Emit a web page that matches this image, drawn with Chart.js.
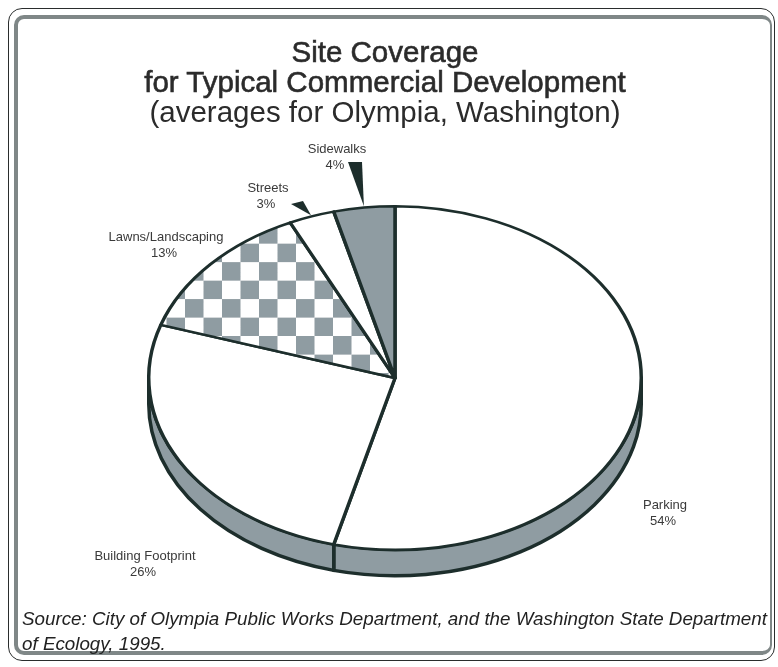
<!DOCTYPE html>
<html>
<head>
<meta charset="utf-8">
<title>Site Coverage</title>
<script src="https://cdn.jsdelivr.net/npm/chart.js@4.4.1/dist/chart.umd.min.js"></script>
<style>
  html, body { margin: 0; padding: 0; background: #fff; }
  #pagina {
    position: relative; width: 778px; height: 667px; overflow: hidden;
    font-family: "Liberation Sans", Arial, sans-serif; color: #2b2b2b;
  }
  #grafico { position: absolute; left: 0; top: 0; }
  .marco-ext {
    position: absolute; left: 8px; top: 8px; width: 767px; height: 653px;
    border: 1.5px solid #2a2d2d; border-radius: 14px; box-sizing: border-box;
  }
  .marco-int {
    position: absolute; left: 14px; top: 15px; width: 758px; height: 640px;
    border: 4px solid #7f8787; border-right-width: 2px; border-radius: 10px; box-sizing: border-box;
  }
  #titulo {
    position: absolute; left: 0; top: 37px; width: 770px; text-align: center;
    font-size: 29.5px; line-height: 30px; white-space: nowrap;
  }
  #titulo .fuerte { -webkit-text-stroke: 0.6px #2b2b2b; }
  #fuente {
    position: absolute; left: 22px; top: 606px; width: 760px; white-space: nowrap;
    font-size: 18.8px; line-height: 25px; font-style: italic; color: #222;
  }
</style>
</head>
<body>
<div id="pagina">
  <div class="marco-ext"></div>
  <div class="marco-int"></div>
  <canvas id="grafico" width="778" height="667"></canvas>
  <div id="titulo">
    <div class="fuerte">Site Coverage</div>
    <div class="fuerte">for Typical Commercial Development</div>
    <div>(averages for Olympia, Washington)</div>
  </div>
  <div id="fuente">Source: City of Olympia Public Works Department, and the Washington State Department<br>of Ecology, 1995.</div>
</div>

<script>
// categorias y porcentajes de cobertura
const categorias = ['Parking', 'Building Footprint', 'Lawns/Landscaping', 'Streets', 'Sidewalks'];
const porcentajes = [54, 26, 13, 3, 4];

const GRIS = '#8f9ca2';
const LINEA = '#1d2e2c';
const GROSOR = 3.5;
const ESCALA_Y = 173 / 248;   // aplastar el circulo a elipse
const PROFUNDIDAD = 26;       // alto del canto inferior

// patron de cuadros para el cesped (se compensa la escala vertical)
function patronCuadros() {
  const lado = 18.5;
  const c = document.createElement('canvas');
  c.width = Math.round(lado * 2);
  c.height = Math.round(lado * 2 / ESCALA_Y);
  const g = c.getContext('2d');
  const alto = c.height / 2;
  g.fillStyle = '#fff';
  g.fillRect(0, 0, c.width, c.height);
  g.fillStyle = GRIS;
  g.fillRect(0, 0, c.width / 2, alto);
  g.fillRect(c.width / 2, alto, c.width / 2, alto);
  return g.createPattern(c, 'repeat');
}

const ctxG = document.getElementById('grafico').getContext('2d');
const rellenos = ['#ffffff', '#ffffff', patronCuadros(), '#ffffff', GRIS];

// canto 3D y aplastado de la torta
const elipse = {
  id: 'elipse',
  beforeDatasetsDraw(chart) {
    const ctx = chart.ctx;
    const arcos = chart.getDatasetMeta(0).data;
    const cx = arcos[0].x, cy = arcos[0].y;
    ctx.save();
    ctx.lineWidth = GROSOR;
    ctx.strokeStyle = LINEA;
    ctx.fillStyle = GRIS;
    ctx.lineJoin = 'round';
    arcos.forEach(a => {
      const a0 = Math.max(a.startAngle, 0);
      const a1 = Math.min(a.endAngle, Math.PI);
      if (a1 <= a0) return;
      const r = a.outerRadius;
      ctx.beginPath();
      ctx.ellipse(cx, cy, r, r * ESCALA_Y, 0, a0, a1);
      ctx.ellipse(cx, cy + PROFUNDIDAD, r, r * ESCALA_Y, 0, a1, a0, true);
      ctx.closePath();
      ctx.fill();
      ctx.stroke();
    });
    ctx.restore();
    ctx.save();
    ctx.translate(cx, cy);
    ctx.scale(1, ESCALA_Y);
    ctx.translate(-cx, -cy);
  },
  afterDatasetsDraw(chart) {
    chart.ctx.restore();
  }
};

// posicion de cada etiqueta (centro del nombre) y cuña indicadora opcional
const etiquetasPos = [
  { x: 665, y: 505 },
  { x: 145, y: 556 },
  { x: 166, y: 237 },
  { x: 268, y: 188, cuna: [[291, 204], [303, 201]] },
  { x: 337, y: 149, cuna: [[348, 162], [362, 162]] }
];

const etiquetas = {
  id: 'etiquetas',
  afterDraw(chart) {
    const ctx = chart.ctx;
    const arcos = chart.getDatasetMeta(0).data;
    const cx = arcos[0].x, cy = arcos[0].y;
    ctx.save();
    ctx.font = '13px "Liberation Sans", Arial, sans-serif';
    ctx.textAlign = 'center';
    ctx.textBaseline = 'middle';
    ctx.fillStyle = '#3a3a3a';
    arcos.forEach((a, i) => {
      const p = etiquetasPos[i];
      ctx.fillText(categorias[i], p.x, p.y);
      ctx.fillText(porcentajes[i] + '%', p.x - 2, p.y + 16);
      if (p.cuna) {
        const m = (a.startAngle + a.endAngle) / 2;
        const R = a.outerRadius + GROSOR / 2;
        const px = cx + R * Math.cos(m);
        const py = cy + R * ESCALA_Y * Math.sin(m);
        ctx.beginPath();
        ctx.moveTo(p.cuna[0][0], p.cuna[0][1]);
        ctx.lineTo(p.cuna[1][0], p.cuna[1][1]);
        ctx.lineTo(px, py);
        ctx.closePath();
        ctx.fillStyle = LINEA;
        ctx.fill();
        ctx.fillStyle = '#3a3a3a';
      }
    });
    ctx.restore();
  }
};

new Chart(ctxG, {
  type: 'pie',
  data: {
    labels: categorias,
    datasets: [{
      data: porcentajes,
      backgroundColor: rellenos,
      borderColor: LINEA,
      borderWidth: GROSOR,
      borderJoinStyle: 'round'
    }]
  },
  options: {
    responsive: false,
    animation: false,
    layout: { padding: { left: 147, right: 135, top: 130, bottom: 41 } },
    plugins: {
      legend: { display: false },
      tooltip: { enabled: false }
    }
  },
  plugins: [elipse, etiquetas]
});
</script>
</body>
</html>
